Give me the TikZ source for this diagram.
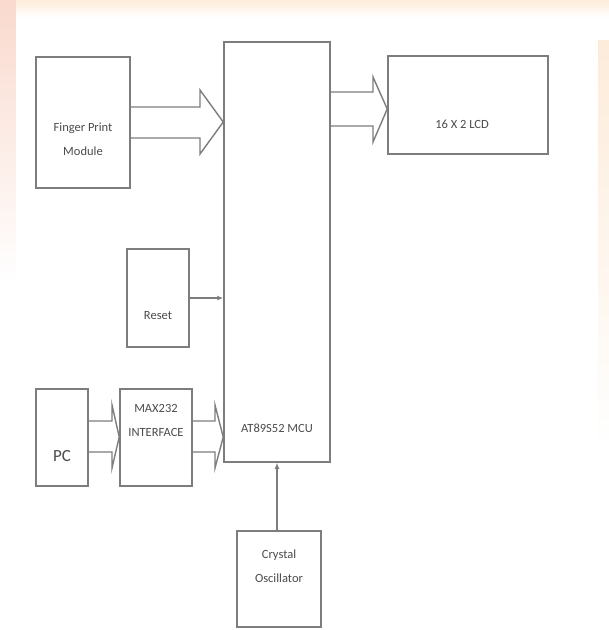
\documentclass[tikz,border=0pt]{standalone}
\usepackage{fontspec}
\setmainfont{Carlito}
\usetikzlibrary{calc,arrows.meta,fadings}
\definecolor{linegray}{RGB}{125,125,125}
\definecolor{txtgray}{RGB}{75,75,75}
\definecolor{peach}{RGB}{253,236,218}
\definecolor{pinkish}{RGB}{250,218,206}
\tikzset{
  blk/.style={draw=linegray, line width=1.5pt, fill=white, inner sep=0pt},
  lbl/.style={text=txtgray, font=\fontsize{12.5}{24}\selectfont, align=center, inner sep=0pt},
  bigarrow/.style={draw=linegray, line width=1.4pt, line join=miter},
  conn/.style={draw=linegray, line width=1.3pt, -{Latex[length=6pt,width=5pt]}}
}
\begin{document}
\begin{tikzpicture}[x=1pt,y=-1pt]
\useasboundingbox (0,0) rectangle (609,630);
\fill[white] (0,0) rectangle (609,630);
% faint tinted edges
\shade[top color=peach, bottom color=white] (0,0) rectangle (609,18);
\fill[pinkish, path fading=south] (0,0) rectangle (16,280);
\fill[peach, path fading=south] (598,40) rectangle (609,440);

% blocks
\node[blk, minimum width=94, minimum height=131] (fp) at (83,122.5) {};
\node[blk, minimum width=106, minimum height=420] (mcu) at (277,252) {};
\node[blk, minimum width=160, minimum height=98] (lcd) at (468,105) {};
\node[blk, minimum width=62, minimum height=98] (reset) at (158,298) {};
\node[blk, minimum width=52, minimum height=97] (pc) at (62,437.5) {};
\node[blk, minimum width=72, minimum height=97] (max) at (156,437.5) {};
\node[blk, minimum width=84, minimum height=96] (xtal) at (279,579) {};

% labels
\node[lbl] (fpt) at (83,139) {Finger Print\\Module};
\node[lbl] (mcut) at (277,428) {AT89S52 MCU};
\node[lbl] (lcdt) at (462,124) {16 X 2 LCD};
\node[lbl] (resett) at (158,316) {Reset};
\node[lbl, font=\fontsize{17}{20}\selectfont] (pct) at (62,456) {PC};
\node[lbl] (maxt) at (156,420) {MAX232\\INTERFACE};
\node[lbl] (xtalt) at (279,566) {Crystal\\Oscillator};

% block arrows
\draw[bigarrow] (fp.east |- 0,107) -- (200,107) -- (200,90) -- (mcu.west |- 0,122)
  -- (200,154) -- (200,138) -- (fp.east |- 0,138);
\draw[bigarrow] (mcu.east |- 0,92) -- (373,92) -- (373,77) -- (lcd.west |- 0,109)
  -- (373,142) -- (373,126) -- (mcu.east |- 0,126);
\draw[bigarrow] (pc.east |- 0,421) -- (112,421) -- (112,405) -- (max.west |- 0,437)
  -- (112,468) -- (112,452) -- (pc.east |- 0,452);
\draw[bigarrow] (max.east |- 0,421) -- (215,421) -- (215,405) -- (mcu.west |- 0,437)
  -- (215,468) -- (215,452) -- (max.east |- 0,452);

% simple connectors
\draw[conn] (reset.east) -- (reset.east -| mcu.west);
\draw[conn] (xtal.north -| 277,0) -- (mcu.south);
\end{tikzpicture}
\end{document}
